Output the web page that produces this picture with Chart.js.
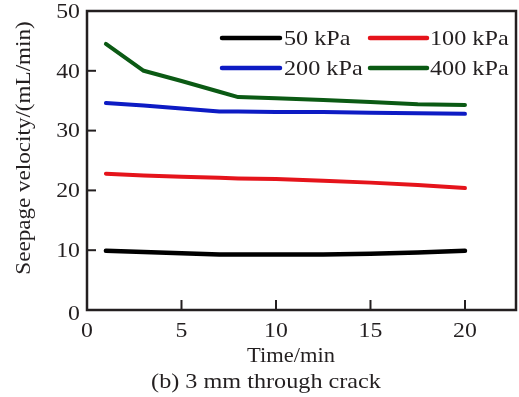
<!DOCTYPE html>
<html>
<head>
<meta charset="utf-8">
<script src="https://cdn.jsdelivr.net/npm/chart.js@4/dist/chart.umd.min.js"></script>
<style>
html,body{margin:0;padding:0;background:#fff;}
#wrap{position:relative;width:519px;height:397px;}
</style>
</head>
<body>
<div id="wrap"><canvas id="c" width="519" height="397"></canvas></div>
<script>
const times = [1, 3, 5, 7, 8, 10, 12.5, 15, 17.5, 20];
const kpa50  = [9.9, 9.7, 9.5, 9.3, 9.3, 9.3, 9.3, 9.4, 9.6, 9.9];
const kpa100 = [22.8, 22.5, 22.3, 22.1, 22.0, 21.9, 21.6, 21.3, 20.9, 20.4];
const kpa200 = [34.6, 34.2, 33.7, 33.2, 33.2, 33.1, 33.1, 33.0, 32.9, 32.8];
const kpa400 = [44.5, 40.0, 38.3, 36.5, 35.6, 35.4, 35.1, 34.8, 34.4, 34.3];
const seriesLabels = ['50 kPa', '100 kPa', '200 kPa', '400 kPa'];
const xTicks = [0, 5, 10, 15, 20];
const yTicks = [0, 10, 20, 30, 40, 50];
const xTitle = 'Time/min';
const yTitle = 'Seepage velocity/(mL/min)';
const caption = '(b) 3 mm through crack';

const colors = ['#000000', '#e5141b', '#0d1bc4', '#0b5a14'];
const FONT = '"Liberation Serif", "Times New Roman", serif';
const AXIS = '#231f20';
const TEXT = '#231f20';

function pts(vals){ return times.map((t,i)=>({x:t, y:vals[i]})); }

const allVals = [kpa50, kpa100, kpa200, kpa400];
const datasets = allVals.map((v,i)=>({
  label: seriesLabels[i],
  data: pts(v),
  borderColor: colors[i],
  backgroundColor: colors[i],
  borderWidth: i === 0 ? 4.5 : 4,
  pointRadius: 0,
  tension: 0,
  borderCapStyle: 'round',
  borderJoinStyle: 'round',
  fill: false
}));

function drawText(ctx, text, x, y, align, size, sx){
  ctx.save();
  ctx.font = size + 'px ' + FONT;
  ctx.textAlign = align;
  ctx.textBaseline = 'middle';
  ctx.fillStyle = TEXT;
  ctx.translate(x, y);
  ctx.scale(sx, 1);
  ctx.fillText(text, 0, 0);
  ctx.restore();
}

const framePlugin = {
  id: 'frame',
  afterDraw(chart){
    const ctx = chart.ctx, a = chart.chartArea;
    const xs = chart.scales.x, ys = chart.scales.y;
    ctx.save();
    ctx.strokeStyle = AXIS;
    ctx.lineWidth = 2.5;
    ctx.strokeRect(a.left, a.top, a.right - a.left, a.bottom - a.top);
    ctx.lineWidth = 2;
    // inward ticks + labels
    xTicks.forEach(v=>{
      const px = xs.getPixelForValue(v);
      if (v !== 0) {
        ctx.beginPath(); ctx.moveTo(px, a.bottom); ctx.lineTo(px, a.bottom - 10); ctx.stroke();
      }
      drawText(ctx, String(v), px, a.bottom + 21, 'center', 22, 1.08);
    });
    yTicks.forEach(v=>{
      const py = ys.getPixelForValue(v);
      if (v !== 0 && v !== 50) {
        ctx.beginPath(); ctx.moveTo(a.left, py); ctx.lineTo(a.left + 9, py); ctx.stroke();
      }
      drawText(ctx, String(v), a.left - 7, v === 0 ? py + 4 : py + 1, 'right', 22, 1.08);
    });
    // legend
    const cols = [[222, 280, 284], [370, 427, 430]];
    const rows = [38, 68];
    chart.data.datasets.forEach((ds, i)=>{
      const c = cols[i % 2], r = rows[Math.floor(i / 2)];
      ctx.strokeStyle = ds.borderColor;
      ctx.lineWidth = 4.5;
      ctx.lineCap = 'round';
      ctx.beginPath(); ctx.moveTo(c[0], r); ctx.lineTo(c[1], r); ctx.stroke();
      drawText(ctx, ds.label, c[2], r + 1, 'left', 22, 1.1);
    });
    // titles
    drawText(ctx, xTitle, 291, 356, 'center', 21, 1.07);
    drawText(ctx, caption, 266, 382, 'center', 22, 1.1);
    ctx.save();
    ctx.translate(24, 148);
    ctx.rotate(-Math.PI / 2);
    drawText(ctx, yTitle, 0, 0, 'center', 21, 1.1);
    ctx.restore();
    ctx.restore();
  }
};

new Chart(document.getElementById('c'), {
  type: 'line',
  data: { datasets },
  options: {
    responsive: false,
    animation: false,
    layout: { padding: { top: 11, right: 3, left: 0, bottom: 0 } },
    plugins: { legend: { display: false }, tooltip: { enabled: false }, title: { display: false } },
    scales: {
      x: {
        type: 'linear',
        min: 0, max: 22.7,
        afterBuildTicks(s){ s.ticks = xTicks.map(v=>({value:v})); },
        afterFit(s){ s.height = 87; },
        grid: { display: false },
        border: { display: false },
        ticks: { display: false }
      },
      y: {
        type: 'linear',
        min: 0, max: 50,
        afterBuildTicks(s){ s.ticks = yTicks.map(v=>({value:v})); },
        afterFit(s){ s.width = 87; },
        grid: { display: false },
        border: { display: false },
        ticks: { display: false }
      }
    }
  },
  plugins: [framePlugin]
});
</script>
</body>
</html>
